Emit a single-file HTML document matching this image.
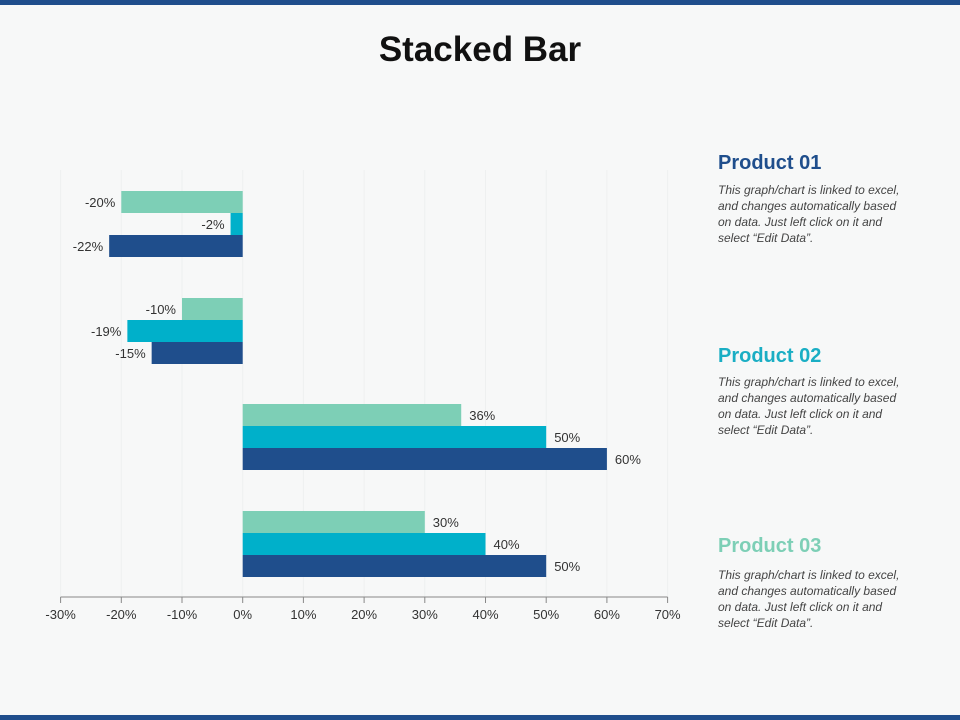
<!DOCTYPE html>
<html><head><meta charset="utf-8"><style>
body{margin:0;width:960px;height:720px;overflow:hidden;background:#f7f8f8;font-family:"Liberation Sans",sans-serif;position:relative}
.bar{position:absolute;left:0;width:960px;height:5px;background:#1f4e8c}
h1{position:absolute;top:30px;left:0;width:960px;text-align:center;margin:0;font-size:35px;font-weight:bold;color:#111}
.ph{position:absolute;left:718px;font-size:20px;font-weight:bold}
.pt{position:absolute;left:718px;white-space:nowrap;font-size:12px;font-style:italic;color:#444;line-height:16px}
</style></head><body>
<div class="bar" style="top:0"></div>
<div class="bar" style="bottom:0"></div>
<h1>Stacked Bar</h1>
<div class="ph" style="top:152px;color:#1f4e8c">Product 01</div>
<div class="pt" style="top:182px">This graph/chart is linked to excel,<br>and changes automatically based<br>on data. Just left click on it and<br>select “Edit Data”.</div>
<div class="ph" style="top:345px;color:#1aaec4">Product 02</div>
<div class="pt" style="top:374px">This graph/chart is linked to excel,<br>and changes automatically based<br>on data. Just left click on it and<br>select “Edit Data”.</div>
<div class="ph" style="top:535px;color:#7dcfb6">Product 03</div>
<div class="pt" style="top:567px">This graph/chart is linked to excel,<br>and changes automatically based<br>on data. Just left click on it and<br>select “Edit Data”.</div>
<svg id="chart" width="960" height="720" style="position:absolute;left:0;top:0"></svg>
<script>
const ticks=[-30,-20,-10,0,10,20,30,40,50,60,70];
const groups=['Group 1','Group 2','Group 3','Group 4'];
const product03=[-20,-10,36,30];
const product02=[-2,-19,50,40];
const product01=[-22,-15,60,50];
const series=[product03,product02,product01];
const colors=['#7dcfb6','#00b0ca','#1f4e8c'];
const svg=document.getElementById('chart');
const NS='http://www.w3.org/2000/svg';
const x=v=>242.7+v*6.07;
const groupTop=[191,298,404,511];
const barH=22;
function mk(t,a){const e=document.createElementNS(NS,t);for(const k in a)e.setAttribute(k,a[k]);svg.appendChild(e);return e;}
ticks.forEach(t=>{
  const g=mk('line',{x1:x(t),x2:x(t),y1:170,y2:597,stroke:'#eef0f0','stroke-width':1});
  
  
  const tk=mk('line',{x1:x(t),x2:x(t),y1:597,y2:603,stroke:'#888'});
  
  
  const l=mk('text',{x:x(t),y:619,'text-anchor':'middle','font-size':13,fill:'#333','font-family':'Liberation Sans, sans-serif'});
  l.textContent=t+'%';
  
  
});
const ax=mk('line',{x1:x(-30),x2:x(70),y1:597,y2:597,stroke:'#888'});


groups.forEach((g,i)=>{
  series.forEach((s,j)=>{
    const v=s[i];const y=groupTop[i]+j*barH;
    const r=mk('rect',{x:Math.min(x(0),x(v)),y:y,width:Math.abs(x(v)-x(0)),height:barH,fill:colors[j]});
    
    
    const t=mk('text',{x:v<0?x(v)-6:x(v)+8,y:y+16,'text-anchor':v<0?'end':'start','font-size':13,fill:'#333','font-family':'Liberation Sans, sans-serif'});
    t.textContent=v+'%';
    
    
  });
});
</script>
</body></html>
